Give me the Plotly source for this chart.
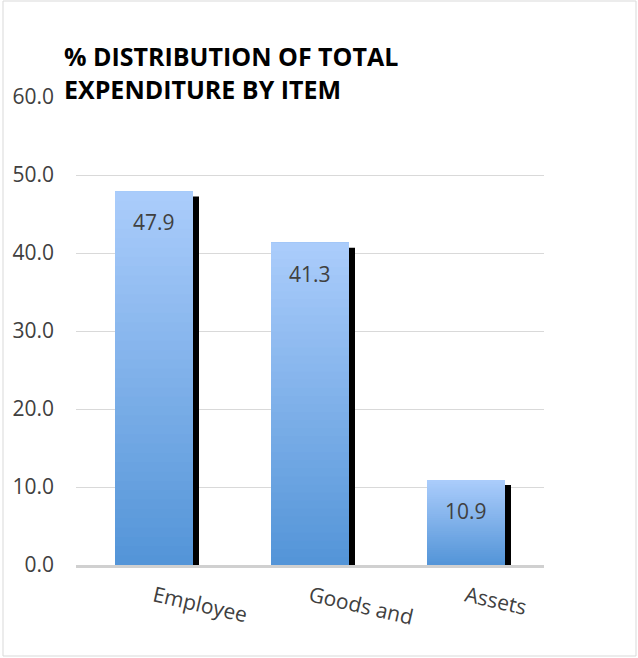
import plotly.graph_objects as go

categories = ["Employee", "Goods and", "Assets"]
values = [47.9, 41.3, 10.9]
y_ticks = [0, 10, 20, 30, 40, 50, 60]
title_lines = ["% DISTRIBUTION OF TOTAL", "EXPENDITURE BY ITEM"]

W, H = 638, 658
ML, MR, MT, MB = 76, 94, 97, 93
PW = W - ML - MR
PH = H - MT - MB
YMAX = 60
BAR_W = 0.5
CAT_PX = PW / len(categories)
PX_PER_UNIT = PH / YMAX

top_col = (170, 204, 251)
bot_col = (84, 149, 216)
N = 40

fig = go.Figure()

# shadow
dx = 6 / CAT_PX
dy = 5 / PX_PER_UNIT
fig.add_trace(go.Bar(
    x=categories, y=values, base=[-dy] * len(values),
    width=BAR_W, offset=-BAR_W / 2 + dx,
    marker=dict(color="#000000", line=dict(width=0)),
    hoverinfo="skip", showlegend=False,
))

# gradient bars (stacked overlay from bottom to top)
for k in range(N):
    t = k / N
    c = tuple(round(bot_col[i] + (top_col[i] - bot_col[i]) * (k / (N - 1))) for i in range(3))
    bases = [v * t for v in values]
    lens = [v * (1 - t) for v in values]
    fig.add_trace(go.Bar(
        x=categories, y=lens, base=bases,
        width=BAR_W, offset=-BAR_W / 2,
        marker=dict(color="rgb(%d,%d,%d)" % c, line=dict(width=0)),
        hoverinfo="skip", showlegend=False,
    ))

for c, v in zip(categories, values):
    fig.add_annotation(
        x=c, y=v, xref="x", yref="y", text="%.1f" % v, showarrow=False,
        yanchor="middle", yshift=-31,
        font=dict(family="Open Sans", size=21, color="#404040"),
    )

fig.add_annotation(
    xref="paper", yref="paper", x=(62 - ML) / PW, y=(H - MB - 37) / PH,
    xanchor="left", yanchor="top", align="left", showarrow=False,
    text="<b>" + "<br>".join(title_lines) + "</b>",
    font=dict(family="Open Sans", size=25, color="#000000"),
)

fig.add_shape(
    type="rect", xref="paper", yref="paper",
    x0=(3 - ML) / PW, x1=(636 - ML) / PW,
    y0=(H - MB - 656) / PH, y1=(H - MB - 1) / PH,
    line=dict(color="#d9d9d9", width=1), fillcolor="rgba(0,0,0,0)", layer="below",
)

fig.update_layout(
    width=W, height=H,
    margin=dict(l=ML, r=MR, t=MT, b=MB),
    barmode="overlay",
    paper_bgcolor="white", plot_bgcolor="white",
    showlegend=False,
    font=dict(family="Open Sans", color="#404040"),
)
fig.update_xaxes(
    type="category", showgrid=False, showline=True, linecolor="#d0d0d0", linewidth=3,
    ticks="", tickangle=13, tickfont=dict(size=21, color="#404040"),
    range=[-0.5, 2.5], ticklabelstandoff=8,
)
fig.update_yaxes(
    range=[0, YMAX], tickvals=y_ticks, ticktext=["%.1f" % t for t in y_ticks],
    showgrid=True, gridcolor="#d9d9d9", gridwidth=1, zeroline=False,
    showline=False, ticks="", tickfont=dict(size=21, color="#404040"),
    ticklabelstandoff=21,
)

fig.write_html("out.html")
